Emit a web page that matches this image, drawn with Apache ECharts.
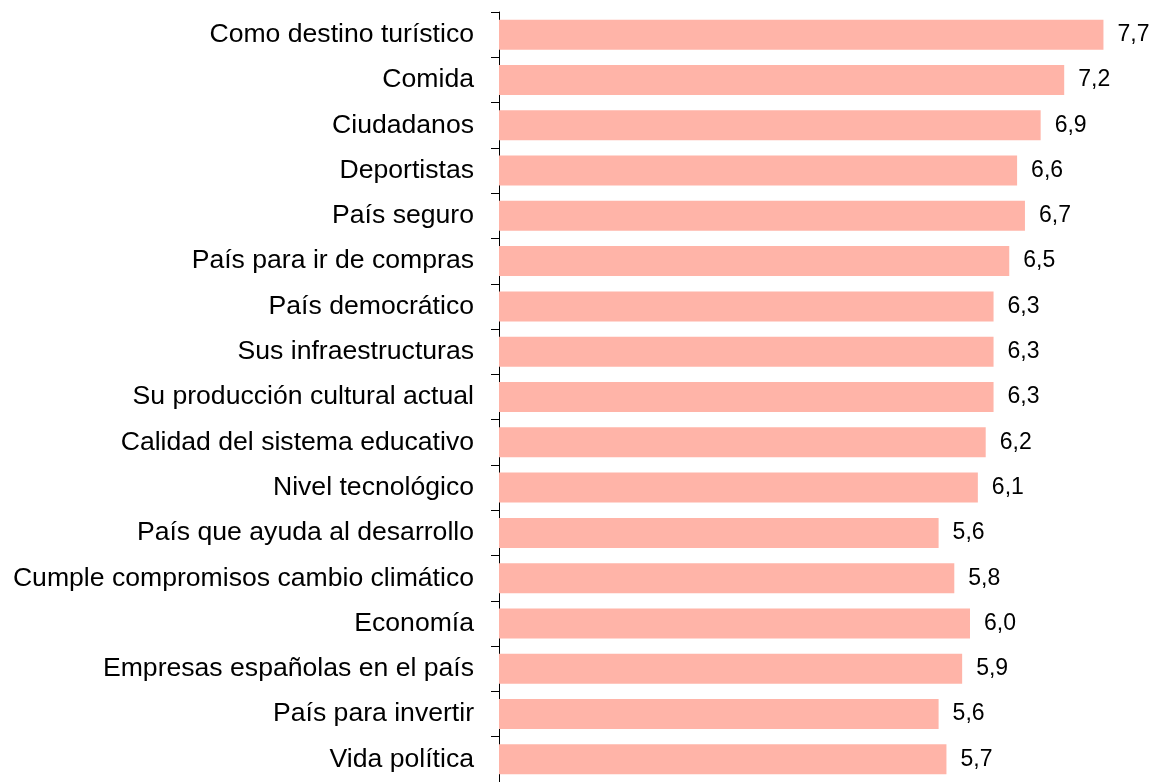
<!DOCTYPE html>
<html>
<head>
<meta http-equiv="Content-Type" content="text/html; charset=utf-8">
<title>Valoración</title>
<script type="text/javascript" src="https://cdn.jsdelivr.net/npm/echarts@6/dist/echarts.min.js"></script>
<style>
	html, body { margin: 0; padding: 0; background: #fff; }
	#chart { width: 1154px; height: 782px; }
</style>
</head>
<body>
	<div id="chart"></div>
	<script type="text/javascript">
		// categorias, de arriba abajo
		var categorias = [ 'Como destino turístico', 'Comida', 'Ciudadanos', 'Deportistas',
				'País seguro', 'País para ir de compras', 'País democrático',
				'Sus infraestructuras', 'Su producción cultural actual',
				'Calidad del sistema educativo', 'Nivel tecnológico',
				'País que ayuda al desarrollo', 'Cumple compromisos cambio climático',
				'Economía', 'Empresas españolas en el país', 'País para invertir',
				'Vida política' ];
		var valores = [ 7.7, 7.2, 6.9, 6.6, 6.7, 6.5, 6.3, 6.3, 6.3, 6.2, 6.1, 5.6, 5.8, 6.0, 5.9, 5.6, 5.7 ];

		var fuente = '"Liberation Sans", Arial, sans-serif';

		var option = {
			animation : false,
			grid : {
				left : 499,
				top : 12,
				width : 628,
				height : 775
			},
			xAxis : {
				type : 'value',
				min : 0,
				max : 8,
				show : false
			},
			yAxis : {
				type : 'category',
				inverse : true,
				data : categorias,
				axisLine : {
					show : true,
					lineStyle : { color : '#000', width : 1 }
				},
				axisTick : {
					show : true,
					length : 8,
					lineStyle : { color : '#000', width : 1 }
				},
				axisLabel : {
					margin : 25,
					color : '#000',
					fontSize : 26.6,
					fontFamily : fuente
				}
			},
			series : [ {
				type : 'bar',
				data : valores,
				barWidth : 30,
				itemStyle : { color : '#FFB4A8' },
				label : {
					show : true,
					position : 'right',
					distance : 14,
					color : '#000',
					fontSize : 23,
					fontFamily : fuente,
					formatter : function(p) {
						return p.value.toFixed(1).replace('.', ',');
					}
				}
			} ]
		};

		var chart = echarts.init(document.getElementById('chart'));
		chart.setOption(option);
	</script>
</body>
</html>
